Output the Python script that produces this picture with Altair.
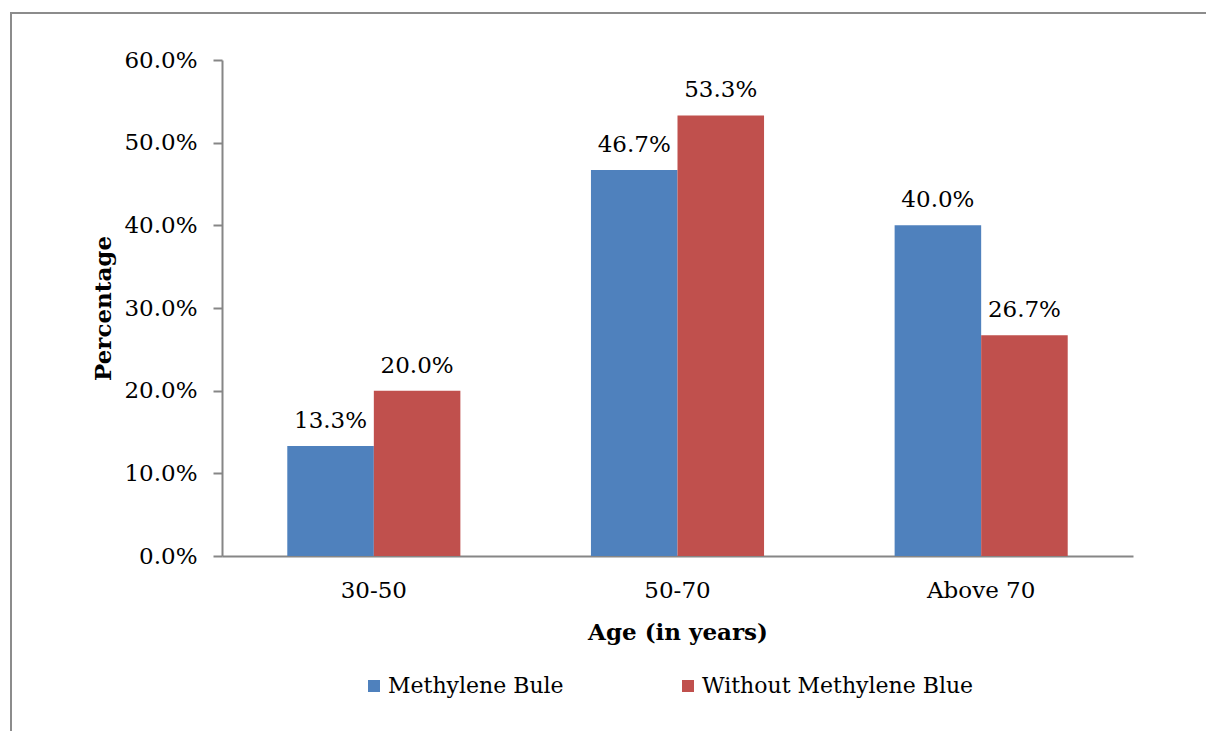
import altair as alt
import pandas as pd

ages = ["30-50", "50-70", "Above 70"]
groups = ["Methylene Bule", "Without Methylene Blue"]
methylene = [0.133, 0.467, 0.400]
without = [0.200, 0.533, 0.267]
colors = ["#4F81BD", "#C0504D"]

rows = []
for a, v in zip(ages, methylene):
    rows.append({"age": a, "group": groups[0], "value": v})
for a, v in zip(ages, without):
    rows.append({"age": a, "group": groups[1], "value": v})
df = pd.DataFrame(rows)

FONT = "DejaVu Serif"
FS = 23
W, H = 911, 496

x = alt.X("age:N", sort=ages, title="Age (in years)",
          scale=alt.Scale(paddingInner=0.43, paddingOuter=0.215),
          axis=alt.Axis(labelAngle=0, ticks=False, tickSize=0, labelPadding=34,
                        labelBaseline="middle", titleY=76, titleBaseline="middle",
                        domainColor="#868686", domainWidth=2))
xo = alt.XOffset("group:N", sort=groups)
y = alt.Y("value:Q", title="Percentage",
          scale=alt.Scale(domain=[0, 0.6], nice=False),
          axis=alt.Axis(format=".1%", values=[0, 0.1, 0.2, 0.3, 0.4, 0.5, 0.6],
                        grid=False, tickSize=9, tickColor="#868686", tickWidth=2,
                        domainColor="#868686", domainWidth=2, labelPadding=16,
                        titleX=-119, titleBaseline="middle"))

base = alt.Chart(df)
bars = base.mark_bar().encode(
    x=x, xOffset=xo, y=y,
    color=alt.Color("group:N", sort=groups,
                    scale=alt.Scale(domain=groups, range=colors),
                    legend=alt.Legend(title=None, orient="none", direction="horizontal",
                                      legendX=141, legendY=615, symbolType="square",
                                      symbolSize=144, symbolStrokeWidth=0,
                                      labelOffset=3, columnPadding=113, padding=0,
                                      labelFontSize=22, labelFont=FONT,
                                      labelColor="#000000", labelLimit=400)),
)
labels = base.mark_text(baseline="middle", dy=-25, font=FONT, fontSize=FS,
                        color="#000000").encode(
    x=x, xOffset=xo, y=y,
    text=alt.Text("value:Q", format=".1%"),
)

frame = pd.DataFrame({"k": [0]})
top_line = alt.Chart(frame).mark_rule(color="#8c8c8c", strokeWidth=2).encode(
    x=alt.value(-212), x2=alt.value(1000), y=alt.value(-47))
left_line = alt.Chart(frame).mark_rule(color="#8c8c8c", strokeWidth=2).encode(
    x=alt.value(-211), y=alt.value(-47), y2=alt.value(700))

chart = alt.layer(bars, labels, top_line, left_line).properties(
    width=W, height=H,
    autosize=alt.AutoSizeParams(type="none"),
    padding={"left": 222, "top": 60, "right": 73, "bottom": 175},
    background="white",
).configure_view(stroke=None).configure_axis(
    labelFont=FONT, labelFontSize=FS, labelColor="#000000",
    titleFont=FONT, titleFontSize=FS, titleFontWeight="bold", titleColor="#000000",
)

chart.save("out.html", embed_options={"renderer": "svg", "actions": False})
